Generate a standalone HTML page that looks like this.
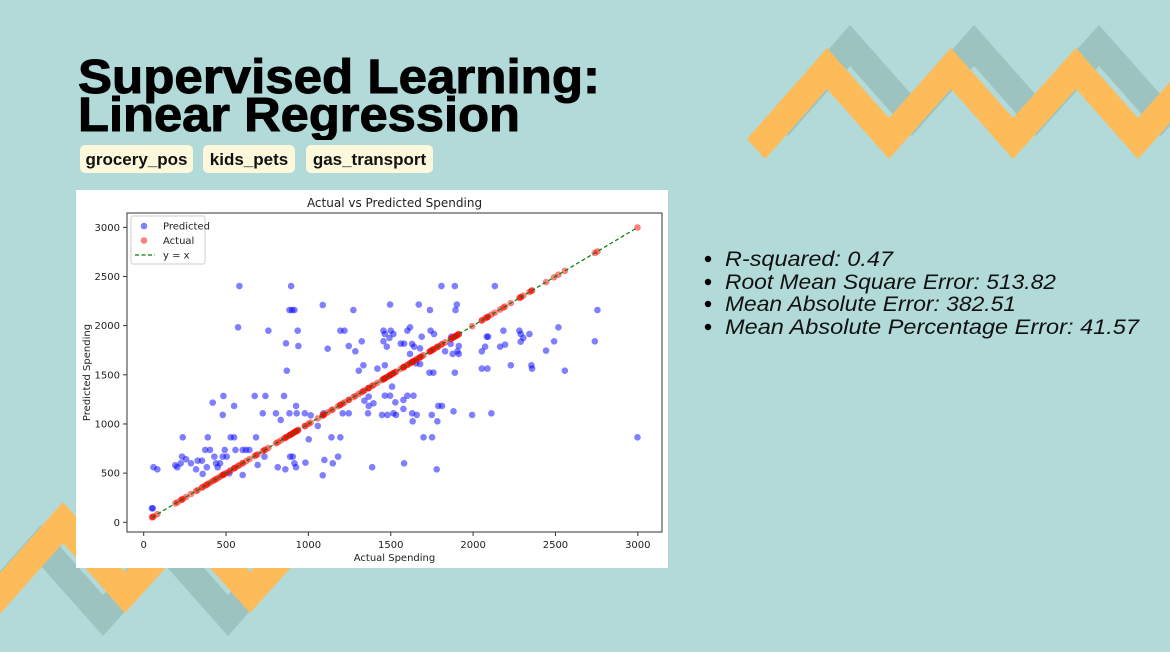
<!DOCTYPE html>
<html><head><meta charset="utf-8">
<style>
html,body{margin:0;padding:0;}
body{width:1170px;height:652px;overflow:hidden;background:#b1dad8;position:relative;font-family:"Liberation Sans",sans-serif;}
.abs{position:absolute;left:0;top:0;}
.tag{position:absolute;top:145px;height:28px;background:#fbf8dc;border-radius:5px;font-weight:bold;font-size:17px;line-height:29px;text-align:center;color:#111;}
</style></head>
<body>
<svg class="abs" width="1170" height="652">
  <g>
    <polygon fill="#9dc3c1" transform="translate(23,-23)" points="747,139 827,48 889,118 951,48 1013,118 1076,48 1138,118 1200,48 1200,89 1138,159 1076,89 1013,159 951,89 889,159 827,89 765,159"/>
    <polygon fill="#fdbb5a" points="747,139 827,48 889,118 951,48 1013,118 1076,48 1138,118 1200,48 1200,89 1138,159 1076,89 1013,159 951,89 889,159 827,89 765,159"/>
  </g>
  <g>
    <polygon fill="#9dc3c1" transform="translate(-22,23)" points="0,573 63,502 125,572 188,502 250,572 272,547 272,588 250,613 188,543 125,613 63,543 0,614"/>
    <polygon fill="#fdbb5a" points="0,573 63,502 125,572 188,502 250,572 313,502 313,543 250,613 188,543 125,613 63,543 0,614"/>
  </g>
</svg>

<svg class="abs" width="700" height="140">
  <text x="78" y="93" font-family="Liberation Sans, sans-serif" font-weight="bold" font-size="48" stroke="#000" stroke-width="1" textLength="522" lengthAdjust="spacingAndGlyphs" fill="#000">Supervised Learning:</text>
  <text x="78" y="131" font-family="Liberation Sans, sans-serif" font-weight="bold" font-size="48" stroke="#000" stroke-width="1" textLength="442" lengthAdjust="spacingAndGlyphs" fill="#000">Linear Regression</text>
</svg>

<div class="tag" style="left:80px;width:113px;">grocery_pos</div>
<div class="tag" style="left:203px;width:92px;">kids_pets</div>
<div class="tag" style="left:306px;width:127px;">gas_transport</div>

<svg class="abs" width="1170" height="652" style="pointer-events:none">
  <g font-family="Liberation Sans, sans-serif" font-style="italic" font-size="21" fill="#111">
    <circle cx="708" cy="259" r="3.2" fill="#000"/>
    <text x="725" y="266" textLength="168" lengthAdjust="spacingAndGlyphs">R-squared: 0.47</text>
    <circle cx="708" cy="282" r="3.2" fill="#000"/>
    <text x="725" y="289" textLength="331" lengthAdjust="spacingAndGlyphs">Root Mean Square Error: 513.82</text>
    <circle cx="708" cy="304" r="3.2" fill="#000"/>
    <text x="725" y="311" textLength="291" lengthAdjust="spacingAndGlyphs">Mean Absolute Error: 382.51</text>
    <circle cx="708" cy="327" r="3.2" fill="#000"/>
    <text x="725" y="334" textLength="414" lengthAdjust="spacingAndGlyphs">Mean Absolute Percentage Error: 41.57</text>
  </g>
</svg>

<svg id="chart" class="abs" style="left:76px;top:190px" width="592" height="378">
  <rect x="0" y="0" width="592" height="378" fill="#fff"/>
  <g id="plot"></g>
</svg>

<script>
const actual = [55,50,59,83,192,204,225,237,233,257,287,318,328,354,358,383,374,389,403,419,429,439,449,464,480,484,480,492,504,520,528,549,549,557,573,581,601,601,621,642,674,682,692,723,739,757,733,803,814,832,852,860,864,869,885,895,901,915,889,905,915,929,925,935,939,925,885,982,978,1002,1014,1057,1087,1087,1091,1097,1117,1140,1148,1180,1194,1194,1219,1208,1245,1273,1245,1285,1306,1324,1334,1340,1366,1362,1366,1387,1395,
1419,1456,1464,1492,1500,1516,1476,1456,1496,1464,1508,1464,1496,1528,1447,1480,1516,1532,1561,1581,1601,1617,1630,1642,1617,1670,1688,1678,1654,1678,1577,1601,1638,1577,1630,1658,1633,1581,1738,1742,1763,1735,1759,1749,1783,1789,1811,1699,1751,1779,1808,1889,1830,1864,1876,1905,1913,1913,1868,1893,1901,1889,1881,1994,2111,2053,2073,2083,2091,2053,2087,2132,2164,2184,2194,2229,2281,2289,2289,2305,2342,2354,2358,2443,2492,2518,2557,2739,2755,2998];
const predicted = [142,142,560,539,580,560,600,864,668,641,600,539,627,627,492,560,736,864,736,1217,668,600,560,600,668,1285,1092,736,668,498,864,864,1183,736,1983,2403,736,481,736,736,1285,864,583,1108,1285,1949,668,1108,560,1041,1285,539,1820,1542,2159,2403,2159,2159,668,668,600,1108,560,1949,1793,1183,1108,607,1108,844,1088,980,478,2210,1108,634,1766,864,600,668,864,1949,1949,1108,1108,2159,1793,1739,1542,1841,1597,1237,1278,1108,1183,560,1210,
1563,1949,1915,1875,1949,1915,1786,1841,2214,1597,1380,1288,1288,1220,1092,1092,1108,1092,1817,1817,1949,1983,1814,1786,1712,2214,1888,1769,1617,1610,1244,1288,1288,1153,1108,1092,1027,600,2159,1949,1915,1522,1522,1092,1027,1183,1183,864,864,539,2403,2403,1739,1814,1712,1739,1793,1712,1888,2159,2214,1522,1129,1092,1108,1739,1786,1888,1888,1563,1563,2403,1786,1949,1807,1597,1949,1915,1837,1875,1915,1597,1563,1746,1841,1983,1542,1841,2159,864];
const xTicks = [0,500,1000,1500,2000,2500,3000];
const yTicks = [0,500,1000,1500,2000,2500,3000];
const legendLabels = ["Predicted","Actual","y = x"];

const NS = "http://www.w3.org/2000/svg";
const plot = document.getElementById('plot');
const L=51, T=23, R=586, B=342;
const X0=67.7, XS=0.1647, Y0=332.3, YS=0.09833;
function sx(v){return X0 + v*XS;}
function sy(v){return Y0 - v*YS;}
function el(tag, attrs, parent){const e=document.createElementNS(NS,tag);for(const k in attrs)e.setAttribute(k,attrs[k]);(parent||plot).appendChild(e);return e;}

let t = el('text',{x:(L+R)/2,y:17,'text-anchor':'middle','font-size':12,'font-family':'DejaVu Sans, sans-serif',fill:'#222'});
t.textContent='Actual vs Predicted Spending';


t = el('text',{x:(L+R)/2,y:371,'text-anchor':'middle','font-size':10,'font-family':'DejaVu Sans, sans-serif',fill:'#222'});
t.textContent='Actual Spending';


t = el('text',{x:0,y:0,'text-anchor':'middle','font-size':10,'font-family':'DejaVu Sans, sans-serif',fill:'#222',transform:'translate(14,'+((T+B)/2)+') rotate(-90)'});
t.textContent='Predicted Spending';



xTicks.forEach(v=>{
  const x=sx(v);
  const ln=el('line',{x1:x,x2:x,y1:B,y2:B+4,stroke:'#333','stroke-width':1});
  
  
  const tx=el('text',{x:x,y:B+16,'text-anchor':'middle','font-size':10,'font-family':'DejaVu Sans, sans-serif',fill:'#222'});
  tx.textContent=v;
  
  
});
yTicks.forEach(v=>{
  const y=sy(v);
  const ln=el('line',{x1:L-4,x2:L,y1:y,y2:y,stroke:'#333','stroke-width':1});
  
  
  const tx=el('text',{x:L-7,y:y+3.5,'text-anchor':'end','font-size':10,'font-family':'DejaVu Sans, sans-serif',fill:'#222'});
  tx.textContent=v;
  
  
});

actual.forEach((a,i)=>{
  const c=el('circle',{cx:sx(a),cy:sy(predicted[i]),r:3.3,fill:'rgba(0,0,255,0.5)'});
  
  
});
actual.forEach(a=>{
  const c=el('circle',{cx:sx(a),cy:sy(a),r:3.3,fill:'rgba(255,0,0,0.5)'});
  
  
});
const mn=Math.min(...actual), mx=Math.max(...actual);
const ref=el('line',{x1:sx(mn),y1:sy(mn),x2:sx(mx),y2:sy(mx),stroke:'#008000','stroke-width':1.2,'stroke-dasharray':'4,2.5'});



const fr=el('rect',{x:L,y:T,width:R-L,height:B-T,fill:'none',stroke:'#333','stroke-width':1});



const lg=el('g',{});


el('rect',{x:55,y:26,width:74,height:48,rx:2,fill:'#fff',stroke:'#ccc','stroke-width':1},lg);
const lc=[ 'rgba(0,0,255,0.5)','rgba(255,0,0,0.5)'];
legendLabels.forEach((lab,i)=>{
  const y=36+i*14.5;
  if(i<2){const c=el('circle',{cx:68,cy:y,r:3.3,fill:lc[i]},lg);
    
    }
  else{const l=el('line',{x1:59,x2:79,y1:y,y2:y,stroke:'#008000','stroke-width':1.2,'stroke-dasharray':'4,2.5'},lg);
    
    }
  const tx=el('text',{x:87,y:y+3.5,'font-size':10,'font-family':'DejaVu Sans, sans-serif',fill:'#222'},lg);
  tx.textContent=lab;
  
  
});
</script>
</body></html>
